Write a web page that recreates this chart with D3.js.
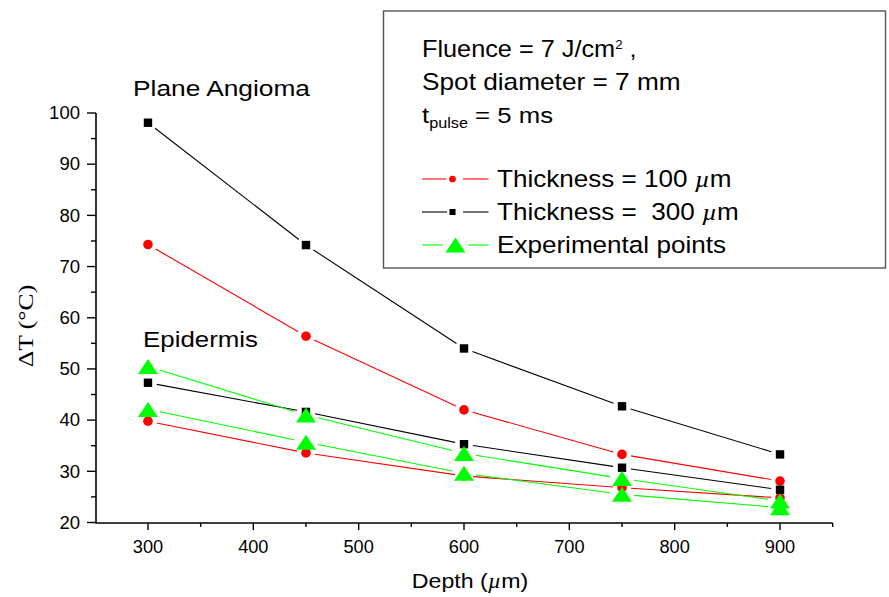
<!DOCTYPE html>
<html>
<head>
<meta charset="utf-8">
<script src="https://cdn.jsdelivr.net/npm/d3@7"></script>
<style>
  html, body { margin: 0; padding: 0; background: #fff; }
  svg { display: block; }
  text { font-family: "Liberation Sans", Arial, sans-serif; fill: #000; }
</style>
</head>
<body>
<svg id="chart" width="889" height="597"></svg>
<script>
// Depth in µm
const depths = [300, 450, 600, 750, 900];

// Plane angioma, computed temperature rise (°C)
const angiomaThin  = [74.3, 56.4, 42.0, 33.3, 28.1];   // thickness 100 µm
const angiomaThick = [98.1, 74.2, 54.0, 42.7, 33.3];   // thickness 300 µm

// Epidermis, computed temperature rise (°C)
const epidermisThin  = [39.8, 33.6, 29.1, 26.8, 24.8]; // thickness 100 µm
const epidermisThick = [47.3, 41.6, 35.3, 30.7, 26.4]; // thickness 300 µm

// Experimental points (°C)
const experimentalUpper = [50.5, 41.0, 33.5, 28.6, 24.2];
const experimentalLower = [42.1, 35.7, 29.6, 25.5, 22.9];

const xTicks = [300, 400, 500, 600, 700, 800, 900];
const yTicks = [20, 30, 40, 50, 60, 70, 80, 90, 100];

const svg = d3.select("#chart");

const x = d3.scaleLinear().domain([250, 950]).range([95.3, 832.7]);
const y = d3.scaleLinear().domain([20, 100]).range([522.5, 113]);

// Text placed at (px,py), widened along its own direction by sx.
function label(parent, px, py, size, sx, anchor, rotate) {
  const r = rotate ? ` rotate(${rotate})` : "";
  return parent.append("text")
    .attr("transform", `translate(${px},${py})${r} scale(${sx},1)`)
    .attr("text-anchor", anchor || "start")
    .attr("font-size", size);
}

// ---- axes ----
const yAxis = svg.append("g").attr("transform", "translate(96,0)");
yAxis.append("line").attr("x1", 0).attr("x2", 0)
  .attr("y1", y(100)).attr("y2", y(20) + 0.75)
  .attr("stroke", "#000").attr("stroke-width", 1.6);
yAxis.selectAll("line.minor").data(d3.range(25, 100, 10)).join("line")
  .attr("class", "minor")
  .attr("x1", -5).attr("x2", 0)
  .attr("y1", d => y(d)).attr("y2", d => y(d))
  .attr("stroke", "#000").attr("stroke-width", 1.4);
yAxis.selectAll("line.major").data(yTicks).join("line")
  .attr("class", "major")
  .attr("x1", -9).attr("x2", 0)
  .attr("y1", d => y(d)).attr("y2", d => y(d))
  .attr("stroke", "#000").attr("stroke-width", 1.4);
yTicks.forEach(d => {
  label(yAxis, -16, y(d) + 6.3, 17.5, 1.06, "end").text(d);
});

const xAxis = svg.append("g").attr("transform", "translate(0,523)");
xAxis.append("line")
  .attr("x1", 95.3).attr("x2", x(950))
  .attr("y1", 0).attr("y2", 0)
  .attr("stroke", "#000").attr("stroke-width", 1.6);
xAxis.selectAll("line.minor").data(d3.range(350, 1000, 100)).join("line")
  .attr("class", "minor")
  .attr("x1", d => x(d)).attr("x2", d => x(d))
  .attr("y1", 0).attr("y2", 4)
  .attr("stroke", "#000").attr("stroke-width", 1.4);
xAxis.selectAll("line.major").data(xTicks).join("line")
  .attr("class", "major")
  .attr("x1", d => x(d)).attr("x2", d => x(d))
  .attr("y1", 0).attr("y2", 7)
  .attr("stroke", "#000").attr("stroke-width", 1.4);
xTicks.forEach(d => {
  label(xAxis, x(d), 30, 17.5, 1.04, "middle").text(d);
});

// axis titles
const xTitle = label(svg, 470, 588, 20.5, 1.13, "middle");
xTitle.append("tspan").text("Depth (");
xTitle.append("tspan").attr("font-style", "italic")
  .attr("font-family", "'Liberation Serif', serif").text("µ");
xTitle.append("tspan").text("m)");

label(svg, 33, 326, 21, 1.22, "middle", -90)
  .style("font-family", "'Liberation Serif', 'Times New Roman', serif")
  .text("ΔT (°C)");

// ---- series ----
const series = [
  { values: angiomaThin,       color: "#ff0000", marker: "circle" },
  { values: epidermisThin,     color: "#ff0000", marker: "circle" },
  { values: angiomaThick,      color: "#000000", marker: "square" },
  { values: epidermisThick,    color: "#000000", marker: "square" },
  { values: experimentalUpper, color: "#00ff00", marker: "triangle" },
  { values: experimentalLower, color: "#00ff00", marker: "triangle" }
];

const gapFor = { circle: 9, square: 9, triangle: 12 };

function drawMarker(g, type, cx, cy, color, scale) {
  const s = scale || 1;
  if (type === "circle") {
    g.append("circle").attr("cx", cx).attr("cy", cy).attr("r", 4.8 * s)
      .attr("fill", color);
  } else if (type === "square") {
    const a = 8.4 * s;
    g.append("rect").attr("x", cx - a / 2).attr("y", cy - a / 2)
      .attr("width", a).attr("height", a).attr("fill", color);
  } else {
    const w = 20 * s, h = 15 * s;
    g.append("path")
      .attr("d", `M${cx},${cy - h / 2}L${cx + w / 2},${cy + h / 2}L${cx - w / 2},${cy + h / 2}Z`)
      .attr("fill", color);
  }
}

const plot = svg.append("g");
series.forEach(s => {
  const pts = depths.map((d, i) => [x(d), y(s.values[i])]);
  const gap = gapFor[s.marker];
  const segs = d3.pairs(pts).map(([a, b]) => {
    const dx = b[0] - a[0], dy = b[1] - a[1];
    const L = Math.hypot(dx, dy);
    const ux = dx / L, uy = dy / L;
    return [a[0] + ux * gap, a[1] + uy * gap, b[0] - ux * gap, b[1] - uy * gap];
  });
  plot.append("g").selectAll("line").data(segs).join("line")
    .attr("x1", d => d[0]).attr("y1", d => d[1])
    .attr("x2", d => d[2]).attr("y2", d => d[3])
    .attr("stroke", s.color).attr("stroke-width", 1.1);
});
series.forEach(s => {
  const g = plot.append("g");
  depths.forEach((d, i) => drawMarker(g, s.marker, x(d), y(s.values[i]), s.color));
});

// region labels
label(svg, 133, 96, 22.5, 1.17, "start").text("Plane Angioma");
label(svg, 143, 347, 22.5, 1.15, "start").text("Epidermis");

// ---- legend / parameters box ----
const box = svg.append("g");
box.append("rect")
  .attr("x", 383.5).attr("y", 11).attr("width", 502).attr("height", 257)
  .attr("fill", "#fff").attr("stroke", "#555").attr("stroke-width", 1.4);

const fl = label(box, 422, 57, 23, 1.1, "start");
fl.append("tspan").text("Fluence = 7 J/cm");
fl.append("tspan").attr("font-size", 12).attr("dy", -8).text("2");
fl.append("tspan").attr("dy", 8).text("\u00a0,");

label(box, 422, 90, 23, 1.14, "start").text("Spot diameter = 7 mm");

const tp = label(box, 422, 123, 23, 1.12, "start");
tp.append("tspan").text("t");
tp.append("tspan").attr("font-size", 14.5).attr("dy", 5).text("pulse");
tp.append("tspan").attr("dy", -5).text(" = 5 ms");

const legendItems = [
  { label: "Thickness = 100 ", mu: true, color: "#ff0000", marker: "circle", ly: 179, ty: 187, mx: 452.5, gap: [446, 463], ms: 0.7 },
  { label: "Thickness = \u00a0300 ", mu: true, color: "#000000", marker: "square", ly: 212, ty: 220, mx: 452.5, gap: [447, 463], ms: 0.72 },
  { label: "Experimental points", mu: false, color: "#00ff00", marker: "triangle", ly: 245, ty: 253, mx: 455.5, gap: [443, 468], ms: 1 }
];
legendItems.forEach(it => {
  const g = box.append("g");
  g.append("line").attr("x1", 422).attr("x2", it.gap[0]).attr("y1", it.ly).attr("y2", it.ly)
    .attr("stroke", it.color).attr("stroke-width", 1.1);
  g.append("line").attr("x1", it.gap[1]).attr("x2", 488.5).attr("y1", it.ly).attr("y2", it.ly)
    .attr("stroke", it.color).attr("stroke-width", 1.1);
  drawMarker(g, it.marker, it.mx, it.ly, it.color, it.ms);
  const t = label(g, 497, it.ty, 23.5, 1.11, "start");
  t.append("tspan").text(it.label);
  if (it.mu) {
    t.append("tspan").attr("font-style", "italic")
      .attr("font-family", "'Liberation Serif', serif").text("µ");
    t.append("tspan").text("m");
  }
});
</script>
</body>
</html>
